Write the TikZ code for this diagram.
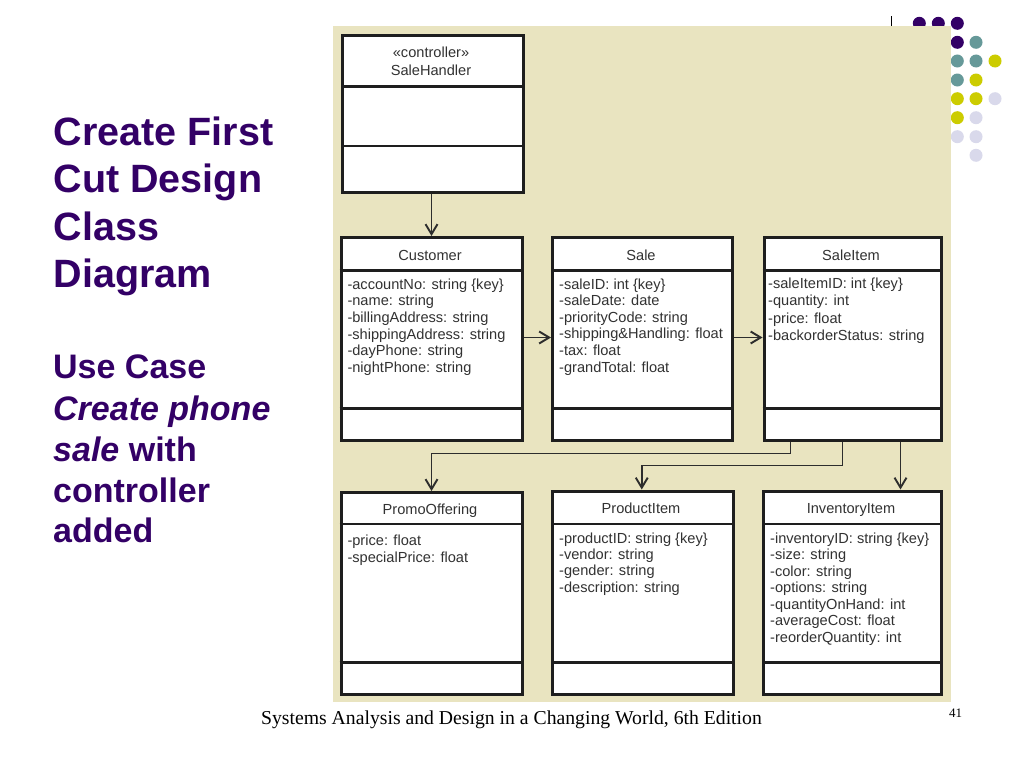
\documentclass[tikz,border=0pt]{standalone}
\usepackage{fontspec}
\setmainfont{Liberation Sans}
\newfontfamily\seriffam{Liberation Serif}
\usetikzlibrary{arrows.meta,calc}
\definecolor{panel}{RGB}{233,228,192}
\definecolor{ttlc}{RGB}{51,0,102}
\definecolor{dpurple}{RGB}{51,0,102}
\definecolor{dteal}{RGB}{102,153,153}
\definecolor{dyellow}{RGB}{204,204,0}
\definecolor{dlav}{RGB}{217,217,235}
\definecolor{boxc}{RGB}{30,30,30}
\definecolor{arrc}{RGB}{45,45,45}
\definecolor{txtc}{RGB}{50,50,50}
\newcommand{\attrfont}{\fontsize{14.6}{17}\selectfont}
\newcommand{\bigttl}{\fontsize{39.5}{47}\selectfont\bfseries}
\newcommand{\midttl}{\fontsize{34}{41}\selectfont\bfseries}
\begin{document}
\begin{tikzpicture}[x=1pt,y=-1pt,
  cls/.style={draw=boxc, line width=3pt, fill=white, inner sep=0pt, anchor=north west},
  div/.style={draw=boxc, line width=2.6pt},
  arr/.style={draw=arrc, line width=1.9pt, -{Straight Barb[length=10pt,width=12pt,line width=1.9pt]}},
  ttl/.style={anchor=base, inner sep=0pt, font=\attrfont, text=txtc},
  attr/.style={anchor=base west, inner sep=0pt, font=\attrfont, text=txtc},
  head/.style={anchor=base west, inner sep=0pt, text=ttlc}]
\useasboundingbox (0,0) rectangle (1024,768);
\fill[white] (0,0) rectangle (1024,768);
% decorative dots
\foreach \x/\y/\c in {919.3/23.3/dpurple, 938.3/23.3/dpurple, 957.3/23.3/dpurple,
  957.3/42.3/dpurple, 976/42.3/dteal,
  957.3/61/dteal, 976/61/dteal, 995/61/dyellow,
  957.3/80/dteal, 976/80/dyellow,
  957.3/98.7/dyellow, 976/98.7/dyellow, 995/98.7/dlav,
  957.3/117.7/dyellow, 976/117.7/dlav,
  957.3/136.7/dlav, 976/136.7/dlav,
  976/155.3/dlav}
  \fill[\c] (\x,\y) circle[radius=6.5pt];
\draw[black, line width=0.8pt] (891.5,16.5) -- (891.5,26);
% panel
\fill[panel] (333,26) rectangle (951,702);
% title text
\node[head, font=\bigttl] (h1) at (53.5,145) {Create First};
\node[head, font=\bigttl] (h2) at (53.5,192.5) {Cut Design};
\node[head, font=\bigttl] (h3) at (53.5,240) {Class};
\node[head, font=\bigttl] (h4) at (53.5,287) {Diagram};
\node[head, font=\midttl] (h5) at (53,378) {Use Case};
\node[head, font=\midttl] (h6) at (53,420) {\itshape Create phone};
\node[head, font=\midttl] (h7) at (53,461) {\itshape sale\upshape{} with};
\node[head, font=\midttl] (h8) at (53,502) {controller};
\node[head, font=\midttl] (h9) at (53,542) {added};
% footer
\node[anchor=base, inner sep=0pt, font=\seriffam\fontsize{19.7}{22}\selectfont] (foot) at (511.5,724) {Systems Analysis and Design in a Changing World, 6th Edition};
\node[anchor=base, inner sep=0pt, font=\seriffam\fontsize{13}{15}\selectfont] (pnum) at (955.5,717.5) {41};
% class boxes
\node[cls, minimum width=180.5pt, minimum height=156.2pt] (handler) at (341,34.5) {};
\node[cls, minimum width=181pt, minimum height=202.5pt] (customer) at (339.5,236) {};
\node[cls, minimum width=180pt, minimum height=203pt] (sale) at (551,236) {};
\node[cls, minimum width=177pt, minimum height=202.5pt] (saleitem) at (762.5,236) {};
\node[cls, minimum width=181pt, minimum height=201.7pt] (promo) at (339.5,491) {};
\node[cls, minimum width=180.5pt, minimum height=203pt] (product) at (551,489.5) {};
\node[cls, minimum width=177.5pt, minimum height=203pt] (inventory) at (762,489.5) {};
% dividers
\coordinate (d1) at (0,86.7);
\coordinate (d2) at (0,146);
\coordinate (d3) at (0,270.7);
\coordinate (d4) at (0,408.3);
\coordinate (d5) at (0,524);
\coordinate (d6) at (0,662.7);
\draw[div] (handler.west |- d1) -- (handler.east |- d1);
\draw[div] (handler.west |- d2) -- (handler.east |- d2);
\foreach \n in {customer,sale,saleitem}{
  \draw[div] (\n.west |- d3) -- (\n.east |- d3);
  \draw[div] (\n.west |- d4) -- (\n.east |- d4);}
\foreach \n in {promo,product,inventory}{
  \draw[div] (\n.west |- d5) -- (\n.east |- d5);
  \draw[div] (\n.west |- d6) -- (\n.east |- d6);}
% titles
\node[ttl] (t0a) at (431,57.5) {«controller»};
\node[ttl] (t0b) at (431,75) {SaleHandler};
\node[ttl] (t1) at (430,260) {Customer};
\node[ttl] (t2) at (641,260) {Sale};
\node[ttl] (t3) at (851,260) {SaleItem};
\node[ttl] (t4) at (430,514) {PromoOffering};
\node[ttl] (t5) at (641,513.5) {ProductItem};
\node[ttl] (t6) at (851,513.5) {InventoryItem};
% attributes
\foreach \t [count=\i] in {{-accountNo: string \{key\}},{-name: string},{-billingAddress: string},{-shippingAddress: string},{-dayPhone: string},{-nightPhone: string}}
  \node[attr] (cu\i) at (347.3,{289.3+16.6*(\i-1)}) {\t};
\foreach \t [count=\i] in {{-saleID: int \{key\}},{-saleDate: date},{-priorityCode: string},{-shipping\&Handling: float},{-tax: float},{-grandTotal: float}}
  \node[attr] (sa\i) at (559,{289+16.6*(\i-1)}) {\t};
\foreach \t [count=\i] in {{-saleItemID: int \{key\}},{-quantity: int},{-price: float},{-backorderStatus: string}}
  \node[attr] (si\i) at (768,{288.5+17.3*(\i-1)}) {\t};
\foreach \t [count=\i] in {{-price: float},{-specialPrice: float}}
  \node[attr] (po\i) at (347.3,{545.3+17*(\i-1)}) {\t};
\foreach \t [count=\i] in {{-productID: string \{key\}},{-vendor: string},{-gender: string},{-description: string}}
  \node[attr] (pr\i) at (559,{543+16.4*(\i-1)}) {\t};
\foreach \t [count=\i] in {{-inventoryID: string \{key\}},{-size: string},{-color: string},{-options: string},{-quantityOnHand: int},{-averageCost: float},{-reorderQuantity: int}}
  \node[attr] (in\i) at (770,{543+16.5*(\i-1)}) {\t};
% connectors
\coordinate (r1) at (0,337.5);
\draw[arr] (handler.south -| customer.north) -- (customer.north);
\draw[arr] (customer.east |- r1) -- (sale.west |- r1);
\draw[arr] (sale.east |- r1) -- (saleitem.west |- r1);
\draw[arr] ([xshift=-62pt]saleitem.south) -- ++(0,12) -| (promo.north);
\draw[arr] ([xshift=-10pt]saleitem.south) -- ++(0,24) -| ([xshift=-1pt]product.north);
\draw[arr] ([xshift=48pt]saleitem.south) -- ([xshift=48pt]saleitem.south |- inventory.north);
\end{tikzpicture}
\end{document}
